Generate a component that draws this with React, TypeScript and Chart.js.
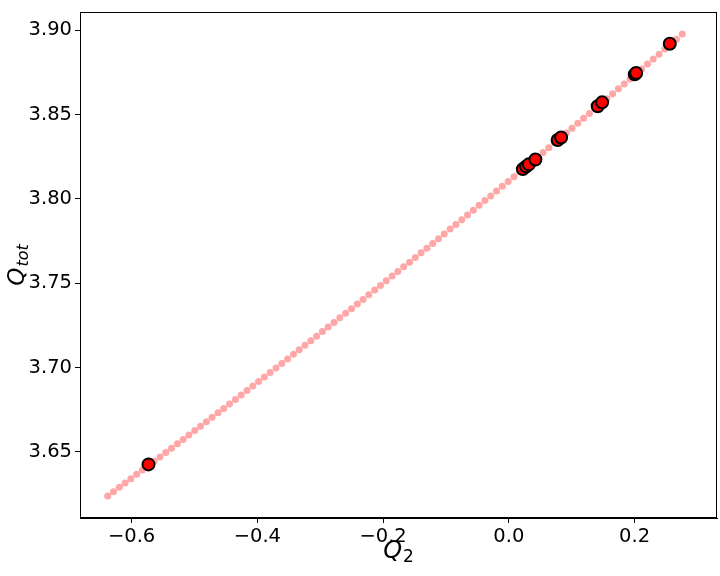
import React, { useEffect, useRef } from "react";
import { Chart, registerables } from "chart.js";

Chart.register(...registerables);

// Pink curve samples (Q2, Qtot)
const curveQ2: number[] = [
  -0.6380, -0.6288, -0.6195, -0.6103, -0.6011, -0.5919, -0.5826, -0.5734, -0.5642, -0.5549,
  -0.5457, -0.5365, -0.5272, -0.5180, -0.5088, -0.4995, -0.4903, -0.4811, -0.4719, -0.4626,
  -0.4534, -0.4442, -0.4349, -0.4257, -0.4165, -0.4072, -0.3980, -0.3888, -0.3796, -0.3703,
  -0.3611, -0.3519, -0.3426, -0.3334, -0.3242, -0.3150, -0.3057, -0.2965, -0.2873, -0.2780,
  -0.2688, -0.2596, -0.2503, -0.2411, -0.2319, -0.2227, -0.2134, -0.2042, -0.1950, -0.1857,
  -0.1765, -0.1673, -0.1580, -0.1488, -0.1396, -0.1303, -0.1211, -0.1119, -0.1027, -0.0934,
  -0.0842, -0.0750, -0.0657, -0.0565, -0.0473, -0.0381, -0.0288, -0.0196, -0.0104, -0.0011,
  0.0081, 0.0173, 0.0266, 0.0358, 0.0450, 0.0543, 0.0635, 0.0727, 0.0819, 0.0912,
  0.1004, 0.1096, 0.1189, 0.1281, 0.1373, 0.1466, 0.1558, 0.1650, 0.1742, 0.1835,
  0.1927, 0.2019, 0.2112, 0.2204, 0.2296, 0.2389, 0.2481, 0.2573, 0.2665, 0.2758,
];
const curveQtot: number[] = [
  3.6237, 3.6263, 3.6289, 3.6314, 3.6340, 3.6366, 3.6392, 3.6417, 3.6443, 3.6469,
  3.6495, 3.6521, 3.6547, 3.6573, 3.6600, 3.6626, 3.6652, 3.6678, 3.6705, 3.6731,
  3.6757, 3.6784, 3.6810, 3.6837, 3.6864, 3.6890, 3.6917, 3.6943, 3.6970, 3.6997,
  3.7024, 3.7051, 3.7078, 3.7105, 3.7132, 3.7159, 3.7186, 3.7213, 3.7240, 3.7267,
  3.7295, 3.7322, 3.7349, 3.7377, 3.7404, 3.7431, 3.7459, 3.7487, 3.7514, 3.7542,
  3.7569, 3.7597, 3.7625, 3.7653, 3.7681, 3.7708, 3.7736, 3.7764, 3.7792, 3.7821,
  3.7849, 3.7877, 3.7905, 3.7933, 3.7962, 3.7990, 3.8018, 3.8047, 3.8075, 3.8104,
  3.8132, 3.8161, 3.8189, 3.8218, 3.8247, 3.8275, 3.8304, 3.8333, 3.8362, 3.8391,
  3.8420, 3.8449, 3.8478, 3.8507, 3.8536, 3.8565, 3.8595, 3.8624, 3.8653, 3.8682,
  3.8712, 3.8741, 3.8771, 3.8800, 3.8830, 3.8859, 3.8889, 3.8919, 3.8948, 3.8978,
];

// Highlighted samples (red)
const sampleQ2: number[] = [-0.5731, 0.0223, 0.0275, 0.0318, 0.0422, 0.0776, 0.0831, 0.1413, 0.1483, 0.2002, 0.2024, 0.2559];
const sampleQtot: number[] = [3.6425, 3.8177, 3.8192, 3.8205, 3.8234, 3.8350, 3.8364, 3.8550, 3.8573, 3.8739, 3.8747, 3.8921];

const xTicks: number[] = [-0.6, -0.4, -0.2, 0.0, 0.2];
const yTicks: number[] = [3.65, 3.7, 3.75, 3.8, 3.85, 3.9];

const FONT = "'DejaVu Sans', sans-serif";

const framePlugin = {
  id: "frameAndTitles",
  afterDraw(chart: any) {
    const { ctx, chartArea } = chart;
    ctx.save();
    ctx.strokeStyle = "#000";
    ctx.lineWidth = 1;
    ctx.strokeRect(chartArea.left + 0.5, chartArea.top + 0.5, chartArea.right - chartArea.left - 1, chartArea.bottom - chartArea.top - 1);

    const drawSub = (main: string, sub: string, cx: number, cy: number, big: number, small: number) => {
      ctx.fillStyle = "#000";
      ctx.textBaseline = "alphabetic";
      const subFont = `${sub === "2" ? "" : "italic "}${small}px ${FONT}`;
      ctx.font = `italic ${big}px ${FONT}`;
      const w1 = ctx.measureText(main).width;
      ctx.font = subFont;
      const w2 = ctx.measureText(sub).width;
      const total = w1 + w2 + 1;
      const x0 = cx - total / 2;
      ctx.font = `italic ${big}px ${FONT}`;
      ctx.textAlign = "left";
      ctx.fillText(main, x0, cy);
      ctx.font = subFont;
      ctx.fillText(sub, x0 + w1 + 1, cy + 4);
    };
    const cxX = (chartArea.left + chartArea.right) / 2;
    drawSub("Q", "2", cxX, 558, 24, 17);

    ctx.save();
    ctx.translate(24, (chartArea.top + chartArea.bottom) / 2);
    ctx.rotate(-Math.PI / 2);
    drawSub("Q", "tot", 0, 0, 23, 16);
    ctx.restore();
    ctx.restore();
  },
};

export default function App() {
  const ref = useRef<HTMLCanvasElement | null>(null);
  useEffect(() => {
    if (!ref.current) return;
    const pink = curveQ2.map((x, i) => ({ x, y: curveQtot[i] }));
    const red = sampleQ2.map((x, i) => ({ x, y: sampleQtot[i] }));
    const chart = new Chart(ref.current, {
      type: "scatter",
      data: {
        datasets: [
          {
            data: red,
            backgroundColor: "#ff0000",
            borderColor: "#000000",
            borderWidth: 2,
            pointRadius: 6,
            order: 0,
          },
          {
            data: pink,
            backgroundColor: "rgba(255,0,0,0.35)",
            borderWidth: 0,
            pointRadius: 3.5,
            order: 1,
          },
        ],
      },
      plugins: [framePlugin],
      options: {
        animation: false,
        responsive: true,
        maintainAspectRatio: false,
        layout: { autoPadding: false, padding: { top: 12, right: 3, left: 0, bottom: 0 } },
        plugins: { legend: { display: false }, tooltip: { enabled: false } },
        scales: {
          x: {
            type: "linear",
            min: -0.682,
            max: 0.331,
            afterFit: (s: any) => { s.height = 58; s.paddingLeft = 0; s.paddingRight = 0; },
            afterBuildTicks: (s: any) => { s.ticks = xTicks.map((v) => ({ value: v })); },
            ticks: {
              color: "#000",
              font: { family: FONT, size: 19.5 },
              padding: 2,
              maxRotation: 0,
              callback: (v: any) => Number(v).toFixed(1).replace("-", "\u2212"),
            },
            grid: { display: true, drawOnChartArea: false, drawTicks: true, tickLength: 5, color: "#000" },
            border: { display: true, color: "#000", width: 1 },
          },
          y: {
            type: "linear",
            min: 3.6107,
            max: 3.9109,
            afterFit: (s: any) => { s.width = 80; s.paddingTop = 0; s.paddingBottom = 0; },
            afterBuildTicks: (s: any) => { s.ticks = yTicks.map((v) => ({ value: v })); },
            ticks: {
              color: "#000",
              font: { family: FONT, size: 19.5 },
              padding: 3,
              callback: (v: any) => Number(v).toFixed(2),
            },
            grid: { display: true, drawOnChartArea: false, drawTicks: true, tickLength: 5, color: "#000" },
            border: { display: true, color: "#000", width: 1 },
          },
        },
      },
    });
    return () => chart.destroy();
  }, []);
  return (
    <div style={{ position: "absolute", left: 0, top: 0, width: 720, height: 576, background: "#fff" }}>
      <canvas ref={ref} />
    </div>
  );
}
